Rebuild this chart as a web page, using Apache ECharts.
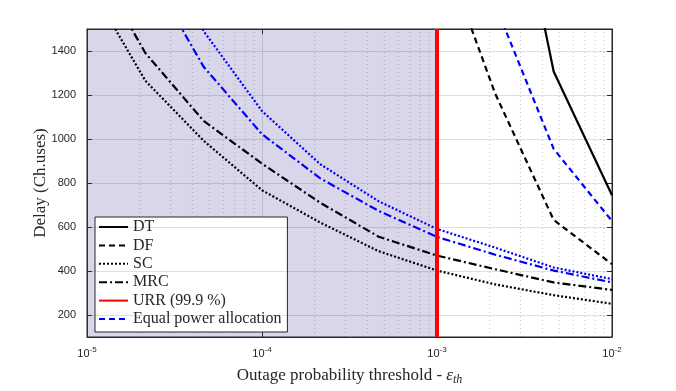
<!DOCTYPE html>
<html>
<head>
<meta charset="utf-8">
<script src="https://cdn.jsdelivr.net/npm/echarts@6/dist/echarts.min.js"></script>
<style>
    html, body { margin: 0; padding: 0; background: #fff; }
    .chart { width: 676px; height: 391px; }
</style>
</head>
<body>
<div class="chart"></div>
<script>
// 横坐标：中断概率阈值（每个数量级取3个点）
const epsVals = [1e-5, 2.154e-5, 4.642e-5, 1e-4, 2.154e-4, 4.642e-4, 1e-3, 2.154e-3, 4.642e-3, 1e-2];
// 各方案的时延（超出 1500 的点会被裁掉）
const dtVals = [null, null, null, null, null, null, null, 2600, 1307, 744];
const dfVals = [null, null, null, null, null, null, 1930, 1205, 632, 431];
const scVals = [1720, 1265, 992, 767, 620, 490, 402, 339, 290, 251];
const mrcVals = [1860, 1391, 1082, 888, 710, 556, 470, 408, 348, 314];
// 等功率分配（蓝色）
const dfEqVals = [null, null, null, null, null, null, null, 1610, 955, 627];
const scEqVals = [null, 2000, 1490, 1127, 885, 717, 591, 506, 416, 363];
const mrcEqVals = [null, 1790, 1328, 1022, 821, 673, 555, 474, 402, 348];
// URR 阈值
const urrEps = 1e-3;
// 刻度
const yTicks = [200, 400, 600, 800, 1000, 1200, 1400];
const xMinor = [2e-5, 3e-5, 4e-5, 5e-5, 6e-5, 7e-5, 8e-5, 9e-5,
    2e-4, 3e-4, 4e-4, 5e-4, 6e-4, 7e-4, 8e-4, 9e-4,
    2e-3, 3e-3, 4e-3, 5e-3, 6e-3, 7e-3, 8e-3, 9e-3];

(function () {
    let myChart = echarts.init(document.querySelector('.chart'))
    const axisColor = '#262626'
    const serif = '"Liberation Serif", "DejaVu Serif", serif'
    const sans = '"Liberation Sans", Arial, sans-serif'

    function pairs(vals) {
        return epsVals.map((x, i) => [x, vals[i]])
    }

    function curve(name, vals, color, dash) {
        return {
            name: name,
            type: 'line',
            data: pairs(vals),
            symbol: 'none',
            clip: true,
            z: 5,
            lineStyle: { color: color, width: 2.2, type: dash },
            itemStyle: { color: color }
        }
    }

    const dashed = [6, 4]
    const dotted = [2, 2]
    const dashDot = [8, 3, 2, 3]

    // 次网格线（竖直虚线）：用断开的折线画，null 处断开
    let minorGrid = []
    xMinor.forEach(function (v) {
        minorGrid.push([v, 100], [v, 1500], [v, null])
    })

    // 公共的 x 轴设置
    let xBase = {
        type: 'log',
        logBase: 10,
        min: 1e-5,
        max: 1e-2,
        axisLine: { show: true, lineStyle: { color: axisColor, width: 1 } },
        axisTick: { show: true, inside: true, length: 5, lineStyle: { color: axisColor } },
        splitLine: { show: false }
    }
    let yBase = {
        type: 'value',
        min: 100,
        max: 1500,
        axisLine: { show: true, lineStyle: { color: axisColor, width: 1 } },
        axisTick: { show: true, inside: true, length: 5, customValues: yTicks, lineStyle: { color: axisColor } },
        splitLine: { show: false }
    }

    let option = {
        animation: false,
        grid: {
            left: 87,
            top: 29,
            right: 64,
            bottom: 51,
            show: true,
            borderColor: axisColor,
            borderWidth: 1
        },
        legend: {
            data: ['DT', 'DF', 'SC', 'MRC', 'URR (99.9 %)', 'Equal power allocation'],
            orient: 'vertical',
            left: 95,
            top: 217,
            padding: [2, 6, 5, 3],
            itemWidth: 29,
            itemHeight: 14,
            itemGap: 2.4,
            // 图例里不画圆点，只画线
            itemStyle: { opacity: 0 },
            backgroundColor: '#fff',
            borderColor: axisColor,
            borderWidth: 1,
            textStyle: { fontFamily: serif, fontSize: 16, color: axisColor }
        },
        xAxis: [
            Object.assign({}, xBase, {
                position: 'bottom',
                name: '{n|Outage probability threshold - }{e|\u03b5}{s|th}',
                nameLocation: 'middle',
                nameGap: 29,
                nameTextStyle: {
                    rich: {
                        n: { fontFamily: serif, fontSize: 17, color: axisColor },
                        e: { fontFamily: serif, fontSize: 17, fontStyle: 'italic', color: axisColor },
                        s: { fontFamily: serif, fontSize: 12, fontStyle: 'italic', color: axisColor, padding: [8, 0, 0, 0] }
                    }
                },
                axisLabel: {
                    margin: 9,
                    formatter: function (v) {
                        return '{b|10}{e|' + Math.round(Math.log10(v)) + '}'
                    },
                    rich: {
                        b: { fontFamily: sans, fontSize: 11, color: axisColor },
                        e: { fontFamily: sans, fontSize: 8, color: axisColor, padding: [0, 0, 8, 0] }
                    }
                },
                splitLine: { show: true, lineStyle: { color: 'rgba(38,38,38,0.15)', width: 1 } }
            }),
            Object.assign({}, xBase, { position: 'top', axisLabel: { show: false } })
        ],
        yAxis: [
            Object.assign({}, yBase, {
                position: 'left',
                name: 'Delay (Ch.uses)',
                nameLocation: 'middle',
                nameGap: 38,
                nameMoveOverlap: false,
                nameTextStyle: { fontFamily: serif, fontSize: 17, color: axisColor },
                axisLabel: {
                    customValues: yTicks,
                    margin: 11,
                    fontFamily: sans,
                    fontSize: 11,
                    color: axisColor,
                    formatter: function (v) { return String(v) }
                }
            }),
            Object.assign({}, yBase, { position: 'right', axisLabel: { show: false } })
        ],
        series: [
            // 背景阴影区域 + 水平网格线
            {
                name: 'grid',
                type: 'line',
                data: [],
                silent: true,
                z: 3,
                markArea: {
                    silent: true,
                    itemStyle: { color: 'rgba(60,50,140,0.2)' },
                    data: [[{ xAxis: 1e-5 }, { xAxis: urrEps }]]
                },
                markLine: {
                    silent: true,
                    symbol: 'none',
                    label: { show: false },
                    animation: false,
                    lineStyle: { color: 'rgba(38,38,38,0.15)', width: 1, type: 'solid' },
                    data: yTicks.map(v => ({ yAxis: v }))
                }
            },
            // 次网格线
            {
                name: 'minor',
                type: 'line',
                data: minorGrid,
                symbol: 'none',
                silent: true,
                connectNulls: false,
                z: 3,
                lineStyle: { color: 'rgba(38,38,38,0.25)', width: 1, type: [1, 3] }
            },
            curve('DT', dtVals, '#000', 'solid'),
            curve('DF', dfVals, '#000', dashed),
            curve('SC', scVals, '#000', dotted),
            curve('MRC', mrcVals, '#000', dashDot),
            {
                name: 'URR (99.9 %)',
                type: 'line',
                data: [[urrEps, 100], [urrEps, 1500]],
                symbol: 'none',
                z: 6,
                lineStyle: { color: '#ff0000', width: 4 },
                itemStyle: { color: '#ff0000' }
            },
            curve('Equal power allocation', dfEqVals, '#0000ff', dashed),
            curve('SC (equal power)', scEqVals, '#0000ff', dotted),
            curve('MRC (equal power)', mrcEqVals, '#0000ff', dashDot)
        ]
    }

    myChart.setOption(option)
    window.addEventListener('resize', function () {
        myChart.resize()
    })
})();
</script>
</body>
</html>
